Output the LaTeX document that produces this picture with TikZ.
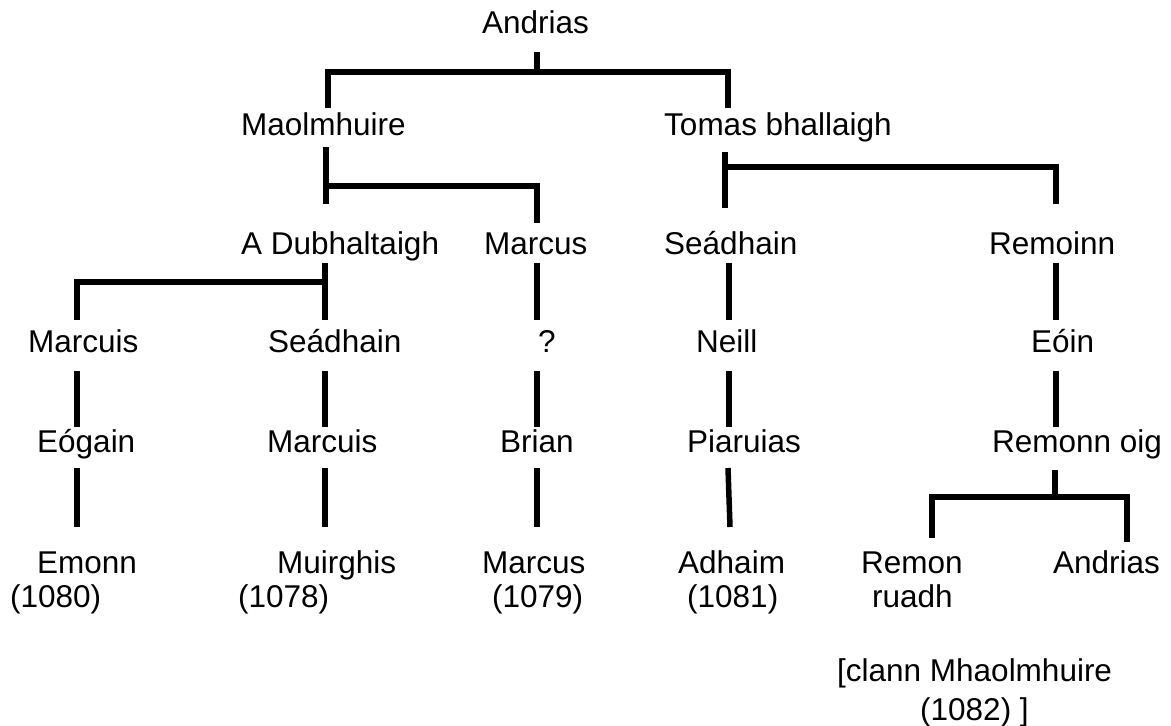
\documentclass[tikz,border=0pt]{standalone}
\usepackage{fontspec}
\setmainfont{Liberation Sans}
\newcommand{\person}[4]{\node[person] (#1) at (#2,#3) {#4};}
\newcommand{\link}[4]{\coordinate (#1-t) at (#2,#3); \coordinate (#1-b) at (#2,#4); \draw[bar] (#1-t) -- (#1-b);}
\newcommand{\branch}[5]{\coordinate (#1-s) at (#2,#4); \coordinate (#1-e) at (#3,#5); \draw[bar] (#1-s) -| (#1-e);}
\newcommand{\fork}[6]{\coordinate (#1-l) at (#2,#5); \coordinate (#1-c) at (#3,#4); \coordinate (#1-r) at (#3,#6); \draw[bar] (#1-l) |- (#1-c) -- (#1-r);}

\begin{document}
\begin{tikzpicture}[x=1pt,y=-1pt,
    person/.style={anchor=base west,inner sep=0pt,font=\fontsize{31.5}{36}\selectfont},
    bar/.style={line width=5.5pt,line join=miter}]
    \useasboundingbox (0,0) rectangle (1171,726);
    % generations
    \person{andrias}{482}{33}{Andrias}
    \person{maol}{241}{135}{Maolmhuire}  \person{tomas}{664}{135}{Tomas bhallaigh}
    \person{dubh}{241}{254}{A Dubhaltaigh} \person{marcusA}{484}{254}{Marcus}
    \person{seadA}{664}{254}{Seádhain} \person{remoinn}{989}{254}{Remoinn}
    \person{marcuisA}{28}{352}{Marcuis} \person{seadB}{268}{352}{Seádhain}
    \person{unknown}{538}{352}{?} \person{neill}{696}{352}{Neill} \person{eoin}{1031}{352}{Eóin}
    \person{eogain}{37}{452}{Eógain} \person{marcuisB}{267}{452}{Marcuis}
    \person{brian}{500}{452}{Brian} \person{piaruias}{687}{452}{Piaruias}
    \person{remonnoig}{992}{452}{Remonn oig}
    \person{emonn}{37}{573}{Emonn} \person{emonnY}{10}{607}{(1080)}
    \person{muirghis}{277}{573}{Muirghis} \person{muirghisY}{238}{607}{(1078)}
    \person{marcusB}{482}{573}{Marcus} \person{marcusY}{492}{607}{(1079)}
    \person{adhaim}{678}{573}{Adhaim} \person{adhaimY}{687}{607}{(1081)}
    \person{remon}{861}{573}{Remon} \person{ruadh}{872}{607}{ruadh}
    \person{andriasB}{1053}{573}{Andrias}
    \person{clann}{837}{681}{[clann Mhaolmhuire}
    \person{clannY}{920}{720}{(1082) ]}
    % lines of descent
    \link{andrias}{537}{52}{72} \fork{top}{328}{728}{72}{108}{108}
    \link{maol}{326}{147}{204} \branch{maol}{326}{537}{186}{223}
    \link{tomas}{725}{152}{208} \branch{tomas}{725}{1056}{167}{204}
    \link{dubh}{325}{263}{320} \branch{dubh}{325}{77}{282}{320}
    \link{marcusA}{537}{263}{320} \link{seadA}{729}{263}{320} \link{remoinn}{1056}{263}{320}
    \link{marcuisA}{77}{371}{427} \link{seadB}{325}{371}{427} \link{unknown}{537}{371}{427}
    \link{neill}{729}{371}{427} \link{eoin}{1056}{371}{427}
    \link{eogain}{77}{468}{527} \link{marcuisB}{325}{468}{527} \link{brian}{537}{468}{527}
    \coordinate (piaruias-t) at (728,468); \coordinate (piaruias-b) at (730,527);
    \draw[bar] (piaruias-t) -- (piaruias-b);
    \link{remonnoig}{1055}{470}{497} \fork{kids}{932}{1127}{497}{538}{542}
\end{tikzpicture}
\end{document}
